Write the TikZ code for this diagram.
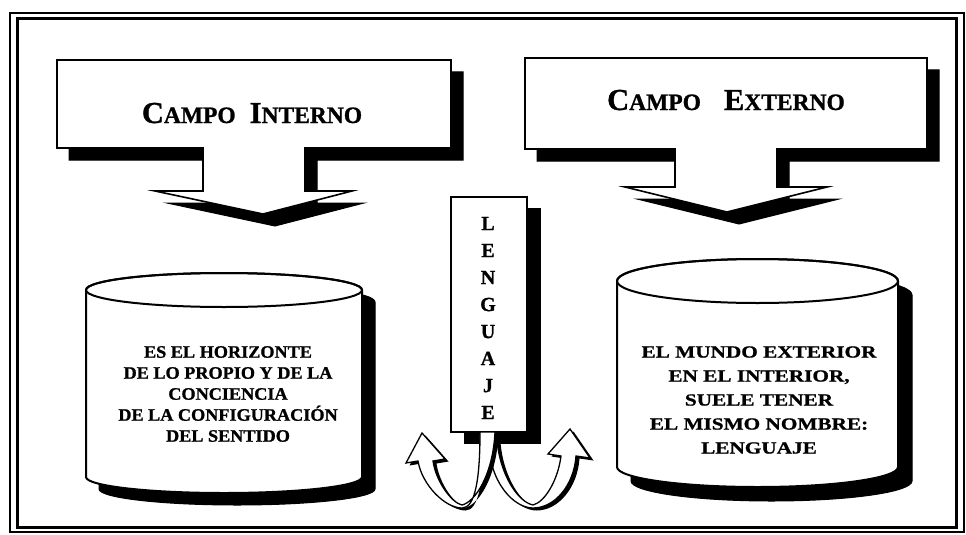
\documentclass[tikz,border=0pt]{standalone}
\usepackage{fontspec}
\setmainfont{Liberation Serif}
\newfontface\heavy{Liberation Serif Bold}[FakeBold=1.0]
\newfontface\lheavy{Liberation Serif Bold}[FakeBold=1.0,FakeStretch=1.04]
\newfontface\rheavy{Liberation Serif Bold}[FakeBold=1.0,FakeStretch=1.25]
\newcommand{\bigsc}[2]{{\fontsize{30.5}{31}\selectfont #1}{\fontsize{23.5}{25}\selectfont #2}}
\begin{document}
\begin{tikzpicture}[x=1pt,y=-1pt,
  outl/.style={draw=black,fill=white,line width=1.6pt,line join=miter},
  shad/.style={fill=black,draw=black,line width=1pt},
  ttl/.style={font=\heavy, anchor=base, inner sep=0pt},
  cyltxt/.style={align=center, inner sep=0pt},
  arrowband/.style={draw=black,fill=white,line width=1.3pt,line join=miter}]
\useasboundingbox (0,0) rectangle (966,535);
% frame
\draw[line width=1.2pt] (10,13) rectangle (964,532);
\draw[line width=3pt] (17,19) rectangle (956,527);
% left callout
\def\calloutL{(57,60) -- (451,60) -- (451,148) -- (305,148) -- (305,191) -- (352,191) -- (263,214) -- (155,191) -- (203,191) -- (203,148) -- (57,148) -- cycle}
\path[shad,shift={(12,12)}] \calloutL;
\path[outl] \calloutL;
% right callout
\def\calloutR{(525,58) -- (927,58) -- (927,149) -- (777,149) -- (777,187) -- (827,187) -- (727,212) -- (625,187) -- (675,187) -- (675,149) -- (525,149) -- cycle}
\path[shad,shift={(12,12)}] \calloutR;
\path[outl] \calloutR;
\node[ttl] (tin) at (252,123) {\bigsc{C}{AMPO}\hspace{14pt}\bigsc{I}{NTERNO}};
\node[ttl] (tex) at (726,110) {\bigsc{C}{AMPO}\hspace{23pt}\bigsc{E}{XTERNO}};
% left cylinder
\def\cylL{(86,290) -- (86,477) arc[start angle=180,end angle=360,x radius=138pt,y radius=16pt] -- (362,290) arc[start angle=0,end angle=180,x radius=138pt,y radius=17pt] -- cycle}
\path[shad,shift={(13,12)}] \cylL;
\path[outl,line width=2pt] \cylL;
\draw[line width=2pt] (224,290) ellipse[x radius=138pt,y radius=17pt];
\node[cyltxt,font=\lheavy\fontsize{17.5}{21}\selectfont] (tl) at (228,394)
 {ES EL HORIZONTE\\DE LO PROPIO Y DE LA\\CONCIENCIA\\DE LA CONFIGURACIÓN\\DEL SENTIDO};
% right cylinder
\def\cylR{(617,281) -- (617,467) arc[start angle=180,end angle=360,x radius=140.5pt,y radius=20pt] -- (898,281) arc[start angle=0,end angle=180,x radius=140.5pt,y radius=22pt] -- cycle}
\path[shad,shift={(14,14)}] \cylR;
\path[outl,line width=2pt] \cylR;
\draw[line width=2pt] (757.5,281) ellipse[x radius=140.5pt,y radius=22pt];
\node[cyltxt,font=\rheavy\fontsize{17}{24}\selectfont] (tr) at (759,400)
 {EL MUNDO EXTERIOR\\EN EL INTERIOR,\\SUELE TENER\\EL MISMO NOMBRE:\\LENGUAJE};
% LENGUAJE box
\path[shad] (464,208) rectangle (540,443);
\path[outl] (451,197) rectangle (527,432);
\node[cyltxt,font=\heavy\fontsize{20}{27}\selectfont] (len) at (488,318) {L\\E\\N\\G\\U\\A\\J\\E};
% right U arrow
\def\arrR{(488,440) .. controls (490,485) and (515,508) .. (533,508) .. controls (555,508) and (574,485) .. (576,456) -- (590,458) -- (570,429) -- (548,454) -- (561,456) .. controls (558,480) and (545,502) .. (533,505) .. controls (518,502) and (500,475) .. (497,440) -- cycle}
\path[fill=black,shift={(3.5,2.5)}] \arrR;
\path[arrowband] \arrR;
% left U arrow
\def\arrL{(480,432) .. controls (480,480) and (475,508) .. (462,508) .. controls (445,508) and (422,485) .. (418,461) -- (406,463) -- (422,433) -- (445,459) -- (433,461) .. controls (436,482) and (452,503) .. (462,505) .. controls (475,502) and (493,475) .. (495,432) -- cycle}
\path[fill=black,shift={(3.5,2.5)}] \arrL;
\path[arrowband] \arrL;
\end{tikzpicture}
\end{document}
